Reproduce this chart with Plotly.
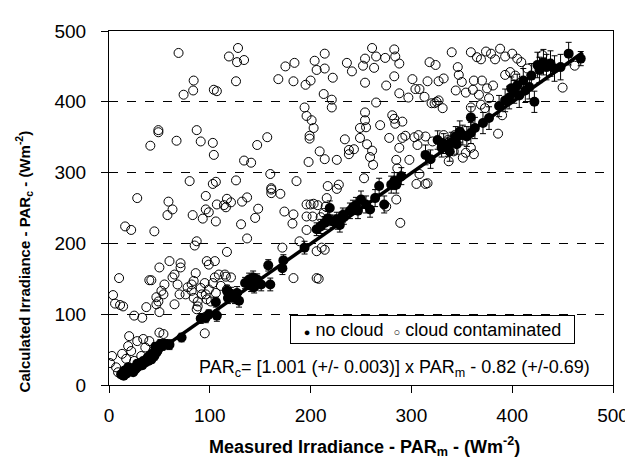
import plotly.graph_objects as go

# ---- data ----
# no cloud (filled circles) with error bars
nc_x = [14.6, 17, 19, 20, 22, 24, 28, 30, 33, 36, 39, 42, 45, 47, 49, 15, 19, 28, 34, 40, 46, 51, 24,
        12, 26, 31, 38, 43, 48, 53, 56,
        60, 72, 91, 96, 99, 106, 107, 117, 121, 125, 129, 118, 127, 135, 139, 143, 147, 151, 141, 144,
        160, 158, 173, 172, 194, 206, 210, 214, 217, 219, 222, 226, 229, 233, 239, 242, 245, 247,
        250, 255, 259, 264, 268, 273, 280, 283, 290, 314, 319, 326, 332, 336, 340, 344, 348, 351,
        355, 359, 363, 359, 371, 377, 387, 393, 397, 399, 402, 405, 407, 411, 413, 417, 422, 419,
        425, 427, 431, 434, 438, 442, 448, 456, 468,
        330, 338, 345, 285, 227, 232, 140, 122]
nc_y = [13, 16, 18, 20, 21, 24, 25, 27, 28, 32, 34, 36, 41, 46, 51, 20, 25, 30, 34, 41, 54, 58, 18,
        15, 22, 31, 38, 44, 48, 55, 58,
        57, 67, 94, 95, 100, 117, 98, 133, 129, 123, 119, 123, 130, 144, 149, 152, 149, 142, 140, 138,
        142, 169, 176, 165, 194, 220, 224, 229, 235, 250, 231, 234, 226, 237, 246, 251, 254, 246,
        262, 255, 248, 264, 281, 255, 283, 288, 295, 325, 319, 346, 341, 336, 343, 351, 358, 353,
        351, 356, 363, 378, 370, 377, 394, 402, 406, 419, 414, 423, 409, 430, 416, 421, 400, 437,
        452, 445, 456, 449, 454, 447, 449, 468, 461,
        335, 330, 340, 283, 230, 240, 145, 125]
nc_err = [4, 4, 4, 4, 4, 4, 5, 4, 5, 5, 5, 5, 6, 5, 6, 4, 4, 5, 5, 5, 6, 6, 4,
          4, 4, 5, 5, 5, 6, 6, 6,
          7, 6, 7, 7, 6, 7, 8, 8, 9, 8, 9, 8, 9, 8, 9, 9, 8, 9, 8, 8,
          9, 8, 8, 9, 9, 9, 10, 9, 10, 10, 9, 10, 10, 10, 11, 10, 11, 11,
          12, 12, 11, 12, 11, 12, 12, 12, 12, 14, 13, 13, 14, 13, 14, 14, 15, 14,
          14, 15, 15, 15, 15, 16, 15, 16, 16, 16, 16, 16, 17, 17, 17, 17, 15, 17,
          18, 18, 18, 18, 18, 18, 18, 16, 10,
          13, 14, 14, 12, 10, 10, 9, 8]

# cloud contaminated (open circles)
cc_x = [69, 74, 83.5, 84, 119, 128, 127, 126, 134, 104, 107, 168, 175, 184, 183, 195, 200, 204, 206,
        214, 214, 213, 222, 221, 236, 241, 254, 252, 254, 261, 263, 265, 275, 274, 283, 284, 288,
        283, 288, 297, 301, 304, 308, 316, 313, 318, 324, 327, 332, 340, 346, 347, 344, 350, 354,
        361, 359, 359, 365, 369, 374, 379, 383, 362, 370, 375, 381, 367, 377, 369, 373, 388, 393,
        400, 405, 398, 403, 393, 409, 415, 430, 462, 450,
        49, 49, 41, 67, 87, 91, 103, 104, 106, 126, 134, 141, 147, 157, 194, 196, 201, 199, 199,
        203, 198, 209, 214, 221, 226, 234, 238, 243, 249, 238, 249, 254, 254, 255, 256, 259, 262,
        261, 265, 269, 278, 281, 283, 284, 285, 286, 288, 291, 291, 294, 298, 303, 306, 307, 314,
        321, 320, 323, 325, 327, 331, 332, 336, 340, 343, 342, 351, 337, 354, 359, 362, 386, 390,
        316, 314, 305, 308,
        28, 59, 63, 58, 45, 80, 83, 87, 85, 96, 96, 93, 99, 106, 107, 103, 114, 117, 116, 121, 117,
        131, 132, 137, 137, 145, 148, 160, 161, 161, 161, 170, 174, 172, 182, 183, 186, 189, 196,
        196, 196, 200, 203, 202, 207, 210, 213, 216, 215, 206, 211, 214, 208, 228, 217, 226,
        253, 275, 285, 289,
        4, 6, 11, 14, 10, 16, 22, 25, 33, 37, 40, 42,
        47, 47, 49, 52, 54, 55, 50, 50, 60, 63, 65, 65, 68, 70, 71, 71, 76, 78, 82, 82, 84, 86,
        84, 87, 88, 88, 91, 92, 95, 96, 97, 97, 99, 99, 101, 103, 105, 105, 106, 109, 111, 115,
        116, 117, 121, 95, 183, 206,
        1, 3, 7, 9, 13, 17, 19, 20, 22, 25, 28, 32, 34, 36, 40, 44, 50, 54, 57]
cc_y = [469, 410, 416, 430, 464, 476, 456, 429, 459, 417, 415, 432, 450, 455, 429, 424, 430, 458, 445,
        447, 468, 411, 434, 403, 455, 443, 461, 451, 427, 476, 448, 464, 423, 462, 474, 464, 454,
        436, 412, 406, 432, 418, 418, 429, 407, 456, 452, 429, 433, 470, 449, 438, 416, 428, 413,
        417, 392, 470, 463, 460, 471, 468, 460, 430, 430, 419, 423, 410, 405, 396, 391, 475, 464,
        468, 461, 442, 437, 438, 456, 447, 466, 451, 420,
        357, 360, 338, 345, 360, 344, 342, 325, 287, 289, 317, 314, 339, 350, 392, 380, 374, 352, 348,
        363, 315, 330, 319, 392, 318, 347, 332, 333, 349, 326, 363, 385, 374, 364, 340, 322, 311,
        331, 399, 367, 349, 381, 376, 369, 318, 306, 335, 349, 372, 352, 318, 350, 339, 353, 351,
        344, 398, 398, 400, 402, 391, 353, 346, 346, 353, 330, 321, 316, 328, 335, 326, 355, 381,
        285, 284, 284, 298,
        264, 259, 248, 240, 217, 288, 240, 203, 197, 267, 248, 235, 244, 231, 255, 284, 254, 188,
        251, 258, 263,
        227, 259, 265, 207, 236, 249, 298, 278, 276, 271, 270, 245, 194, 228, 241, 288, 203, 238,
        255, 219, 255, 256, 238, 254, 237, 243, 264, 252, 189, 194, 191, 150, 283, 281, 277,
        292, 252, 262, 229,
        127, 115, 113, 111, 151, 224, 219, 98, 95, 110, 148, 148,
        124, 114, 118, 133, 128, 142, 103, 166, 175, 152, 156, 114, 142, 128, 166, 172, 128, 138,
        133, 142, 147, 158, 123, 107, 111, 118, 137, 128, 144, 128, 121, 175, 170, 135, 118, 144,
        152, 175, 130, 156, 140, 156, 153, 135, 152, 73, 151, 151,
        31, 41, 25, 18, 44, 37, 55, 69, 48, 34, 62, 41, 65, 53, 62, 48, 74, 72, 57]

# regression fit as given in the chart
fit_slope = 1.001
fit_intercept = -0.82
fit_x = [13, 470]
fit_y = [fit_slope * v + fit_intercept for v in fit_x]

x_ticks = [0, 100, 200, 300, 400, 500]
y_ticks = [0, 100, 200, 300, 400, 500]

FONT = "Arial, Liberation Sans, sans-serif"

fig = go.Figure()

fig.add_trace(go.Scatter(
    x=cc_x, y=cc_y, mode="markers", name="cloud contaminated",
    marker=dict(symbol="circle-open", size=9, color="black", line=dict(width=1, color="black")),
    showlegend=False))

fig.add_trace(go.Scatter(
    x=nc_x, y=nc_y, mode="markers", name="no cloud",
    marker=dict(symbol="circle", size=10, color="black"),
    error_y=dict(type="data", array=nc_err, visible=True, color="black", thickness=1, width=3),
    showlegend=False))

fig.add_trace(go.Scatter(
    x=fit_x, y=fit_y, mode="lines", name="fit",
    line=dict(color="black", width=3.5), showlegend=False))

fig.update_layout(
    width=633, height=475,
    margin=dict(l=101, r=21, t=23, b=98),
    paper_bgcolor="white", plot_bgcolor="white",
    font=dict(family=FONT, color="black"),
    showlegend=False,
)

fig.update_xaxes(
    range=[0, 500], tickvals=x_ticks, ticks="outside", ticklen=7, tickcolor="black",
    tickfont=dict(size=19, family=FONT, color="black"), ticklabelstandoff=6,
    showline=True, linecolor="black", linewidth=1, mirror=True,
    showgrid=False, zeroline=False)

fig.update_yaxes(
    range=[0, 500], tickvals=y_ticks, ticks="outside", ticklen=7, tickcolor="black",
    tickfont=dict(size=19, family=FONT, color="black"), ticklabelstandoff=11,
    showline=True, linecolor="black", linewidth=1, mirror=True,
    showgrid=True, gridcolor="black", gridwidth=1, griddash="dash", zeroline=False)

# axis titles
fig.add_annotation(
    text="<b>Measured Irradiance - PAR<sub>m</sub> - (Wm<sup>-2</sup>)</b>",
    xref="paper", yref="paper", x=0.507, y=-0.175, showarrow=False,
    font=dict(size=18, family=FONT, color="black"), xanchor="center", yanchor="middle")
fig.add_annotation(
    text="<b>Calculated Irradiance - PAR<sub>c</sub> - (Wm<sup>-2</sup>)</b>",
    xref="paper", yref="paper", x=-0.17, y=0.35, showarrow=False, textangle=-90,
    font=dict(size=15, family=FONT, color="black"), xanchor="center", yanchor="middle")

# legend box
fig.add_annotation(
    text="<span style='font-size:11px'>●</span> no cloud  <span style='font-size:11px'>○</span> cloud contaminated",
    xref="paper", yref="paper", x=0.641, y=0.157, showarrow=False,
    font=dict(size=18, family=FONT, color="black"), xanchor="center", yanchor="middle",
    bordercolor="black", borderwidth=1, borderpad=3, bgcolor="white", width=277, height=21)

# equation
fig.add_annotation(
    text="PAR<sub>c</sub>= [1.001 (+/- 0.003)] x PAR<sub>m</sub> - 0.82 (+/-0.69)",
    xref="x", yref="y", x=479.5, y=24, showarrow=False,
    font=dict(size=18, family=FONT, color="black"), xanchor="right", yanchor="middle")

fig.write_html("out.html")
